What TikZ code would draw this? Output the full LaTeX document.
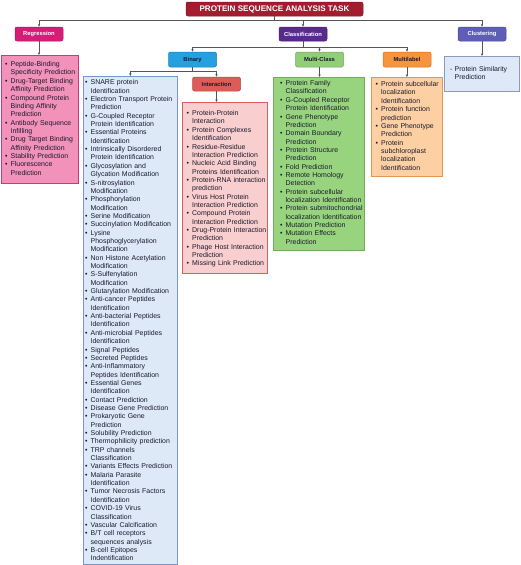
\documentclass[tikz,border=0pt]{standalone}
\usepackage{fontspec}
\setmainfont{Liberation Sans}
\usetikzlibrary{arrows.meta}
\definecolor{titlered}{RGB}{165,28,48}
\definecolor{regc}{RGB}{214,28,118}
\definecolor{regl}{RGB}{242,145,185}
\definecolor{regb}{RGB}{196,60,120}
\definecolor{clsc}{RGB}{88,42,140}
\definecolor{binc}{RGB}{38,160,222}
\definecolor{binl}{RGB}{221,233,247}
\definecolor{binb}{RGB}{120,150,200}
\definecolor{intc}{RGB}{222,92,88}
\definecolor{intl}{RGB}{249,206,206}
\definecolor{intb}{RGB}{214,96,96}
\definecolor{mcc}{RGB}{146,206,120}
\definecolor{mcl}{RGB}{152,212,126}
\definecolor{mcb}{RGB}{112,172,92}
\definecolor{mlc}{RGB}{247,148,60}
\definecolor{mll}{RGB}{252,208,162}
\definecolor{mlb}{RGB}{222,150,80}
\definecolor{cluc}{RGB}{94,94,182}
\definecolor{clul}{RGB}{221,233,247}
\definecolor{club}{RGB}{140,155,185}
\definecolor{txtc}{RGB}{25,25,45}
\definecolor{linegray}{RGB}{85,85,85}
\newcommand\lbul{\makebox[5.5pt][l]{\textbullet}}
\newcommand\lind{\hspace*{5.5pt}}
\newcommand\listfont{\fontsize{6.95}{8.35}\selectfont}
\begin{document}
\begin{tikzpicture}[x=1pt,y=-1pt,
  tag/.style={rounded corners=2pt, line width=0.5pt, minimum width=48pt, minimum height=14pt, inner sep=0pt, font=\fontsize{5.8}{7}\selectfont\bfseries},
  lbox/.style={line width=0.6pt, inner sep=0pt, anchor=north west},
  ltext/.style={inner sep=0pt, anchor=north west, align=left, font=\listfont, text=txtc},
  conn/.style={draw=linegray, line width=0.6pt},
  arr/.style={conn, -{Stealth[length=2.8pt,width=2.4pt]}}]
\useasboundingbox (0,0) rectangle (520,565);
\coordinate (topy) at (0,20);
\coordinate (midy) at (0,47);
\coordinate (biny) at (0,71.5);
% title
\node[tag, fill=titlered, draw=titlered!80!black, minimum width=177pt, minimum height=14pt, text=white, font=\fontsize{8.1}{9}\selectfont\bfseries] (title) at (274.5,9) {PROTEIN SEQUENCE ANALYSIS TASK};
% level 1
\node[tag, fill=regc, draw=regc!80!black, text=white] (reg) at (39,34) {Regression};
\node[tag, fill=clsc, draw=clsc!80!black, text=white] (cls) at (303,34) {Classification};
\node[tag, fill=cluc, draw=cluc!80!black, text=white] (clu) at (482,34) {Clustering};
% level 2
\node[tag, fill=binc, draw=binc!80!black, minimum height=15pt, text=txtc] (bin) at (192.5,59.5) {Binary};
\node[tag, fill=mcc, draw=mcc!80!black, minimum height=15pt, text=txtc] (mc) at (319.5,59.5) {Multi-Class};
\node[tag, fill=mlc, draw=mlc!80!black, minimum height=15pt, text=txtc] (ml) at (407,59.5) {Multilabel};
\node[tag, fill=intc, draw=intc!80!black, text=txtc] (int) at (216.5,84) {Interaction};
% list boxes
\node[lbox, fill=regl, draw=regb, minimum width=77pt, minimum height=128pt] (reglist) at (1,55) {};
\node[lbox, fill=binl, draw=binb, minimum width=94pt, minimum height=488pt] (binlist) at (83,76) {};
\node[lbox, fill=intl, draw=intb, minimum width=85pt, minimum height=171pt] (intlist) at (182,102) {};
\node[lbox, fill=mcl, draw=mcb, minimum width=91pt, minimum height=173pt] (mclist) at (273,77) {};
\node[lbox, fill=mll, draw=mlb, minimum width=71pt, minimum height=99pt] (mllist) at (371,77) {};
\node[lbox, fill=clul, draw=club, minimum width=75pt, minimum height=35pt] (clulist) at (444,56) {};
% connectors
\draw[conn] (title.south) -- (title.south |- topy);
\draw[arr] (title.south |- topy) -| (reg.north);
\draw[arr] (title.south |- topy) -| (clu.north);
\draw[arr] (cls.north |- topy) -- (cls.north);
\draw[conn] (cls.south) -- (cls.south |- midy);
\draw[arr] (cls.south |- midy) -| (bin.north);
\draw[arr] (cls.south |- midy) -| (ml.north);
\draw[arr] (mc.north |- midy) -- (mc.north);
\draw[conn] (bin.south) -- (bin.south |- biny);
\draw[arr] (bin.south |- biny) -| (binlist.north);
\draw[arr] (bin.south |- biny) -| (int.north);
\draw[arr] (reg.south) -- (reg.south |- reglist.north);
\draw[arr] (int.south) -- (int.south |- intlist.north);
\draw[arr] (mc.south) -- (mc.south |- mclist.north);
\draw[arr] (ml.south) -- (ml.south |- mllist.north);
\draw[arr] (clu.south) -- (clu.south |- clulist.north);
% texts
\node[ltext, text width=72pt] (regtxt) at (5,60.6) {\strut\lbul Peptide-Binding\\
\lind Specificity Prediction\\
\lbul Drug-Target Binding\\
\lind Affinity Prediction\\
\lbul Compound Protein\\
\lind Binding Affinity\\
\lind Prediction\\
\lbul Antibody Sequence\\
\lind Infilling\\
\lbul Drug Target Binding\\
\lind Affinity Prediction\\
\lbul Stability Prediction\\
\lbul Fluorescence\\
\lind Prediction};
\node[ltext, text width=90pt] (bintxt) at (85,78.8) {\strut\lbul SNARE protein\\
\lind Identification\\
\lbul Electron Transport Protein\\
\lind Prediction\\
\lbul G-Coupled Receptor\\
\lind Protein Identification\\
\lbul Essential Proteins\\
\lind Identification\\
\lbul Intrinsically Disordered\\
\lind Protein Identification\\
\lbul Glycosylation and\\
\lind Glycation Modification\\
\lbul S-nitrosylation\\
\lind Modification\\
\lbul Phosphorylation\\
\lind Modification\\
\lbul Serine Modification\\
\lbul Succinylation Modification\\
\lbul Lysine\\
\lind Phosphoglycerylation\\
\lind Modification\\
\lbul Non Histone Acetylation\\
\lind Modification\\
\lbul S-Sulfenylation\\
\lind Modification\\
\lbul Glutarylation Modification\\
\lbul Anti-cancer Peptides\\
\lind Identification\\
\lbul Anti-bacterial Peptides\\
\lind Identification\\
\lbul Anti-microbial Peptides\\
\lind Identification\\
\lbul Signal Peptides\\
\lbul Secreted Peptides\\
\lbul Anti-Inflammatory\\
\lind Peptides Identification\\
\lbul Essential Genes\\
\lind Identification\\
\lbul Contact Prediction\\
\lbul Disease Gene Prediction\\
\lbul Prokaryotic Gene\\
\lind Prediction\\
\lbul Solubility Prediction\\
\lbul Thermophilicity prediction\\
\lbul TRP channels\\
\lind Classification\\
\lbul Variants Effects Prediction\\
\lbul Malaria Parasite\\
\lind Identification\\
\lbul Tumor Necrosis Factors\\
\lind Identification\\
\lbul COVID-19 Virus\\
\lind Classification\\
\lbul Vascular Calcification\\
\lbul B/T cell receptors\\
\lind sequences analysis\\
\lbul B-cell Epitopes\\
\lind Indentification};
\node[ltext, text width=82pt] (inttxt) at (186.5,109.6) {\strut\lbul Protein-Protein\\
\lind Interaction\\
\lbul Protein Complexes\\
\lind Identification\\
\lbul Residue-Residue\\
\lind Interaction Prediction\\
\lbul Nucleic Acid Binding\\
\lind Proteins Identification\\
\lbul Protein-RNA interaction\\
\lind prediction\\
\lbul Virus Host Protein\\
\lind Interaction Prediction\\
\lbul Compound Protein\\
\lind Interaction Prediction\\
\lbul Drug-Protein Interaction\\
\lind Prediction\\
\lbul Phage Host Interaction\\
\lind Prediction\\
\lbul Missing Link Prediction};
\node[ltext, text width=88pt] (mctxt) at (280,79.6) {\strut\lbul Protein Family\\
\lind Classification\\
\lbul G-Coupled Receptor\\
\lind Protein Identification\\
\lbul Gene Phenotype\\
\lind Prediction\\
\lbul Domain Boundary\\
\lind Prediction\\
\lbul Protein Structure\\
\lind Prediction\\
\lbul Fold Prediction\\
\lbul Remote Homology\\
\lind Detection\\
\lbul Protein subcellular\\
\lind localization Identification\\
\lbul Protein submitochondrial\\
\lind localization Identification\\
\lbul Mutation Prediction\\
\lbul Mutation Effects\\
\lind Prediction};
\node[ltext, text width=68pt] (mltxt) at (375.5,80.6) {\strut\lbul Protein subcellular\\
\lind localization\\
\lind Identification\\
\lbul Protein function\\
\lind prediction\\
\lbul Gene Phenotype\\
\lind Prediction\\
\lbul Protein\\
\lind subchloroplast\\
\lind localization\\
\lind Identification};
\node[ltext, text width=70pt] (clutxt) at (450,65.6) {\strut\makebox[4.5pt][l]{-}Protein Similarity\\
\hspace*{4.5pt}Prediction};
\end{tikzpicture}
\end{document}
